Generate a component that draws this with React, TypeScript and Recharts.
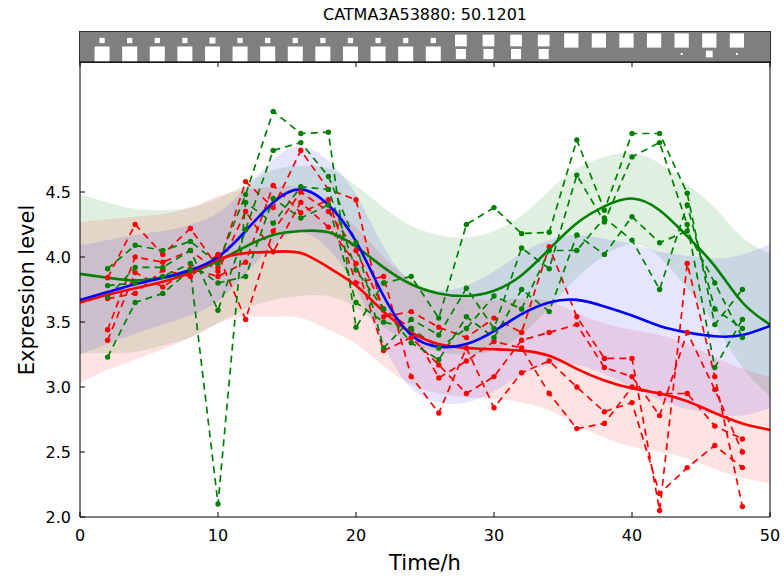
import React from "react";
import { ComposedChart, Area, Line, XAxis, YAxis, ScatterChart, Scatter } from "recharts";

// fitted curves, sampled every 2 h from 0 to 50
const hours = [0, 2, 4, 6, 8, 10, 12, 14, 16, 18, 20, 22, 24, 26, 28, 30, 32, 34, 36, 38, 40, 42, 44, 46, 48, 50];
const greenMean = [3.87, 3.84, 3.82, 3.84, 3.88, 3.97, 4.08, 4.17, 4.2, 4.19, 4.08, 3.92, 3.79, 3.72, 3.7, 3.74, 3.86, 4.06, 4.26, 4.39, 4.45, 4.36, 4.16, 3.93, 3.65, 3.48];
const redMean = [3.65, 3.71, 3.76, 3.81, 3.88, 3.98, 4.03, 4.04, 4.03, 3.92, 3.78, 3.58, 3.42, 3.33, 3.3, 3.29, 3.28, 3.24, 3.14, 3.05, 2.99, 2.95, 2.89, 2.8, 2.72, 2.67];
const blueMean = [3.67, 3.73, 3.79, 3.84, 3.9, 4.0, 4.2, 4.42, 4.52, 4.4, 4.12, 3.7, 3.4, 3.31, 3.33, 3.43, 3.56, 3.65, 3.67, 3.62, 3.55, 3.47, 3.42, 3.39, 3.4, 3.47];
const greenSpread = [0.61, 0.58, 0.55, 0.52, 0.5, 0.48, 0.48, 0.5, 0.5, 0.49, 0.47, 0.46, 0.45, 0.45, 0.45, 0.46, 0.46, 0.45, 0.42, 0.38, 0.35, 0.36, 0.4, 0.45, 0.5, 0.55];
const redSpread = [0.62, 0.58, 0.55, 0.52, 0.5, 0.49, 0.49, 0.5, 0.5, 0.48, 0.45, 0.42, 0.4, 0.38, 0.38, 0.38, 0.4, 0.42, 0.43, 0.44, 0.45, 0.45, 0.44, 0.43, 0.42, 0.41];
const blueSpread = [0.42, 0.4, 0.38, 0.36, 0.35, 0.34, 0.33, 0.33, 0.33, 0.34, 0.36, 0.38, 0.41, 0.43, 0.45, 0.46, 0.47, 0.48, 0.5, 0.52, 0.55, 0.57, 0.59, 0.6, 0.62, 0.63];

// measured replicates, every 2 h from 2 to 48
const sampleHours = [2, 4, 6, 8, 10, 12, 14, 16, 18, 20, 22, 24, 26, 28, 30, 32, 34, 36, 38, 40, 42, 44, 46, 48];
const redReps = [
  [3.84, 4.25, 4.02, 4.22, 3.92, 4.58, 4.38, 4.82, 4.52, 4.44, 3.54, 3.58, 3.46, 3.38, 3.53, 3.42, 4.08, 3.54, 3.22, 3.22, 2.05, 3.95, 3.08, 2.08],
  [3.44, 4.0, 3.96, 4.05, 3.89, 4.35, 4.04, 4.42, 4.23, 3.95, 3.28, 3.38, 3.17, 2.95, 3.08, 3.36, 3.42, 3.48, 3.15, 3.08, 2.78, 3.42, 2.98, 2.5],
  [3.36, 3.88, 3.77, 3.91, 3.85, 3.96, 4.55, 4.34, 4.44, 3.8, 3.85, 3.08, 2.8, 3.3, 2.84, 3.11, 3.2, 3.0, 2.81, 2.88, 2.18, 2.38, 2.55, 2.38],
  [3.68, 3.72, 3.9, 3.85, 4.02, 3.52, 4.2, 4.5, 4.35, 4.05, 3.6, 3.45, 3.07, 3.2, 3.35, 3.3, 2.95, 2.68, 2.72, 3.0, 2.95, 2.95, 2.7, 2.6],
];
const greenReps = [
  [3.91, 4.09, 4.05, 4.12, 3.95, 4.48, 5.12, 4.95, 4.96, 3.46, 3.8, 3.85, 3.53, 4.25, 4.38, 4.18, 4.19, 4.9, 4.36, 4.95, 4.95, 4.49, 3.48, 3.75],
  [3.69, 3.92, 3.92, 4.05, 3.59, 4.21, 4.82, 4.88, 4.62, 4.11, 3.3, 3.52, 3.4, 3.76, 3.45, 4.07, 3.91, 4.63, 4.27, 4.77, 4.88, 4.25, 3.15, 3.52],
  [3.23, 3.65, 3.72, 3.9, 2.1, 4.42, 4.26, 4.54, 4.52, 3.9, 3.6, 3.34, 3.21, 3.54, 3.38, 3.75, 3.58, 4.17, 4.02, 4.31, 4.11, 4.2, 3.8, 3.38],
  [3.78, 3.8, 3.85, 3.95, 3.8, 3.85, 4.45, 4.3, 4.4, 3.65, 3.5, 3.45, 3.3, 3.45, 3.7, 3.6, 4.05, 4.05, 4.3, 4.13, 3.75, 4.4, 3.6, 3.45],
];

// hinton strip above the plot, one column per sample
const hintonUpper = [0.35, 0.35, 0.35, 0.35, 0.4, 0.35, 0.35, 0.35, 0.35, 0.35, 0.35, 0.35, 0.35, 0.78, 0.78, 0.78, 0.78, 0.95, 0.95, 0.95, 0.95, 0.95, 0.95, 0.95];
const hintonLower = [1, 1, 1, 1, 1, 1, 1, 1, 1, 1, 1, 1, 1, 0.67, 0.67, 0.67, 0.67, 0, 0, 0, 0, 0.13, 0.45, 0.13];

const xTicks = [0, 10, 20, 30, 40, 50];
const yTicks = [2.0, 2.5, 3.0, 3.5, 4.0, 4.5];

const RED = "#ff0000";
const GREEN = "#008000";
const BLUE = "#0000ff";
const FONT = "'DejaVu Sans', sans-serif";

const rows = hours.map((t, i) => {
  const row: Record<string, any> = {
    t,
    green: greenMean[i],
    red: redMean[i],
    blue: blueMean[i],
    greenBand: [greenMean[i] - greenSpread[i], greenMean[i] + greenSpread[i]],
    redBand: [redMean[i] - redSpread[i], redMean[i] + redSpread[i]],
    blueBand: [blueMean[i] - blueSpread[i], blueMean[i] + blueSpread[i]],
  };
  const j = sampleHours.indexOf(t);
  if (j >= 0) {
    redReps.forEach((r, k) => (row[`r${k}`] = r[j]));
    greenReps.forEach((g, k) => (row[`g${k}`] = g[j]));
  }
  return row;
});

const hintonCells = [
  ...hintonUpper.map((v, col) => ({ col, row: 1, v })),
  ...hintonLower.map((v, col) => ({ col, row: 0, v })),
].filter((c) => c.v > 0);

const TICK = 5;

const BottomTick = (p: any) => (
  <g>
    <line x1={p.x} x2={p.x} y1={p.y} y2={p.y - TICK} stroke="#000" />
    <text x={p.x} y={p.y + 24} textAnchor="middle" fontSize={16} fontFamily={FONT} fill="#000">
      {p.payload.value}
    </text>
  </g>
);
const TopTick = (p: any) => <line x1={p.x} x2={p.x} y1={p.y} y2={p.y + TICK} stroke="#000" />;
const LeftTick = (p: any) => (
  <g>
    <line x1={p.x} x2={p.x + TICK} y1={p.y} y2={p.y} stroke="#000" />
    <text x={p.x - 9} y={p.y} dy="0.36em" textAnchor="end" fontSize={16} fontFamily={FONT} fill="#000">
      {Number(p.payload.value).toFixed(1)}
    </text>
  </g>
);
const RightTick = (p: any) => <line x1={p.x} x2={p.x - TICK} y1={p.y} y2={p.y} stroke="#000" />;

const HintonBox = (p: any) => {
  const s = p.payload.v * 15;
  return <rect x={p.cx - s / 2} y={p.cy - s / 2} width={s} height={s} fill="#fff" />;
};

export default function App() {
  const rep = (key: string, color: string) => (
    <Line
      key={key}
      dataKey={key}
      type="linear"
      stroke={color}
      strokeWidth={1.7}
      strokeDasharray="7 5"
      dot={{ r: 2.7, fill: color, stroke: color, strokeWidth: 0, strokeDasharray: "" }}
      isAnimationActive={false}
    />
  );

  return (
    <div style={{ position: "absolute", left: 0, top: 0, width: 784, height: 577, background: "#fff", fontFamily: FONT }}>
      <div style={{ position: "absolute", left: 80, top: 5, width: 690, textAlign: "center", fontSize: 16, lineHeight: "20px" }}>
        CATMA3A53880: 50.1201
      </div>

      {/* hinton strip */}
      <div style={{ position: "absolute", left: 80, top: 32, width: 690, height: 30, background: "#7f7f7f", outline: "1px solid #333" }}>
        <ScatterChart width={690} height={30} margin={{ top: 0, right: 0, bottom: 0, left: 0 }}>
          <XAxis type="number" dataKey="col" domain={[-0.8, 24.2]} hide />
          <YAxis type="number" dataKey="row" domain={[-0.593, 1.63]} hide />
          <Scatter data={hintonCells} shape={HintonBox} isAnimationActive={false} />
        </ScatterChart>
      </div>

      <div style={{ position: "absolute", left: 0, top: 0 }}>
        <ComposedChart width={784} height={577} data={rows} margin={{ top: 61, right: 13, bottom: 59, left: 79 }}>
          <XAxis
            type="number"
            dataKey="t"
            domain={[0, 50]}
            ticks={xTicks}
            interval={0}
            height={1}
            tickSize={0}
            tickMargin={0}
            tickLine={false}
            tick={BottomTick}
            axisLine={{ stroke: "#000" }}
          />
          <XAxis
            xAxisId="top"
            orientation="top"
            type="number"
            dataKey="t"
            domain={[0, 50]}
            ticks={xTicks}
            interval={0}
            height={1}
            tickSize={0}
            tickMargin={0}
            tickLine={false}
            tick={TopTick}
            axisLine={{ stroke: "#000" }}
          />
          <YAxis
            type="number"
            domain={[2, 5.5]}
            ticks={yTicks}
            interval={0}
            width={1}
            tickSize={0}
            tickMargin={0}
            tickLine={false}
            tick={LeftTick}
            axisLine={{ stroke: "#000" }}
          />
          <YAxis
            yAxisId="right"
            orientation="right"
            type="number"
            domain={[2, 5.5]}
            ticks={yTicks}
            interval={0}
            width={1}
            tickSize={0}
            tickMargin={0}
            tickLine={false}
            tick={RightTick}
            axisLine={{ stroke: "#000" }}
          />

          <Area dataKey="greenBand" type="natural" stroke="none" fill={GREEN} fillOpacity={0.12} isAnimationActive={false} />
          <Area dataKey="redBand" type="natural" stroke="none" fill={RED} fillOpacity={0.11} isAnimationActive={false} />
          <Area dataKey="blueBand" type="natural" stroke="none" fill={BLUE} fillOpacity={0.1} isAnimationActive={false} />

          {redReps.map((_, k) => rep(`r${k}`, RED))}
          {greenReps.map((_, k) => rep(`g${k}`, GREEN))}

          <Line dataKey="green" type="natural" stroke={GREEN} strokeWidth={2.6} dot={false} isAnimationActive={false} />
          <Line dataKey="red" type="natural" stroke={RED} strokeWidth={2.6} dot={false} isAnimationActive={false} />
          <Line dataKey="blue" type="natural" stroke={BLUE} strokeWidth={2.6} dot={false} isAnimationActive={false} />
        </ComposedChart>
      </div>

      <div style={{ position: "absolute", left: 80, top: 550, width: 690, textAlign: "center", fontSize: 21, lineHeight: "26px" }}>
        Time/h
      </div>
      <div
        style={{
          position: "absolute",
          left: 27,
          top: 290,
          transform: "translate(-50%, -50%) rotate(-90deg)",
          whiteSpace: "nowrap",
          fontSize: 21,
          lineHeight: "26px",
        }}
      >
        Expression level
      </div>
    </div>
  );
}
